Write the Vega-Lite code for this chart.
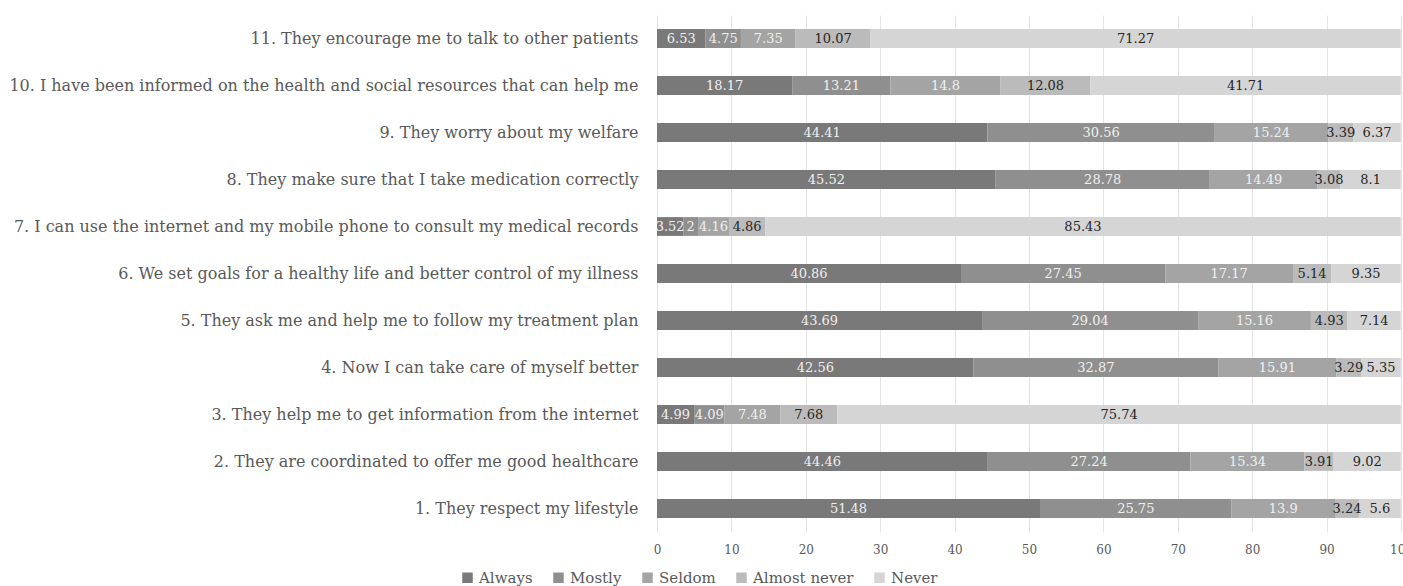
{
  "$schema": "https://vega.github.io/schema/vega-lite/v6.json",
  "width": 744,
  "height": 517,
  "autosize": {"type": "none"},
  "padding": {"left": 657, "top": 15, "right": 2, "bottom": 54},
  "background": "white",
  "config": {"view": {"stroke": null}, "font": "DejaVu Serif"},
  "data": {"values": [
    {"item": "11. They encourage me to talk to other patients", "series": "Always", "value": 6.53},
    {"item": "11. They encourage me to talk to other patients", "series": "Mostly", "value": 4.75},
    {"item": "11. They encourage me to talk to other patients", "series": "Seldom", "value": 7.35},
    {"item": "11. They encourage me to talk to other patients", "series": "Almost never", "value": 10.07},
    {"item": "11. They encourage me to talk to other patients", "series": "Never", "value": 71.27},
    {"item": "10. I have been informed on the health and social resources that can help me", "series": "Always", "value": 18.17},
    {"item": "10. I have been informed on the health and social resources that can help me", "series": "Mostly", "value": 13.21},
    {"item": "10. I have been informed on the health and social resources that can help me", "series": "Seldom", "value": 14.8},
    {"item": "10. I have been informed on the health and social resources that can help me", "series": "Almost never", "value": 12.08},
    {"item": "10. I have been informed on the health and social resources that can help me", "series": "Never", "value": 41.71},
    {"item": "9. They worry about my welfare", "series": "Always", "value": 44.41},
    {"item": "9. They worry about my welfare", "series": "Mostly", "value": 30.56},
    {"item": "9. They worry about my welfare", "series": "Seldom", "value": 15.24},
    {"item": "9. They worry about my welfare", "series": "Almost never", "value": 3.39},
    {"item": "9. They worry about my welfare", "series": "Never", "value": 6.37},
    {"item": "8. They make sure that I take medication correctly", "series": "Always", "value": 45.52},
    {"item": "8. They make sure that I take medication correctly", "series": "Mostly", "value": 28.78},
    {"item": "8. They make sure that I take medication correctly", "series": "Seldom", "value": 14.49},
    {"item": "8. They make sure that I take medication correctly", "series": "Almost never", "value": 3.08},
    {"item": "8. They make sure that I take medication correctly", "series": "Never", "value": 8.1},
    {"item": "7. I can use the internet and my mobile phone to consult my medical records", "series": "Always", "value": 3.52},
    {"item": "7. I can use the internet and my mobile phone to consult my medical records", "series": "Mostly", "value": 2},
    {"item": "7. I can use the internet and my mobile phone to consult my medical records", "series": "Seldom", "value": 4.16},
    {"item": "7. I can use the internet and my mobile phone to consult my medical records", "series": "Almost never", "value": 4.86},
    {"item": "7. I can use the internet and my mobile phone to consult my medical records", "series": "Never", "value": 85.43},
    {"item": "6. We set goals for a healthy life and better control of my illness", "series": "Always", "value": 40.86},
    {"item": "6. We set goals for a healthy life and better control of my illness", "series": "Mostly", "value": 27.45},
    {"item": "6. We set goals for a healthy life and better control of my illness", "series": "Seldom", "value": 17.17},
    {"item": "6. We set goals for a healthy life and better control of my illness", "series": "Almost never", "value": 5.14},
    {"item": "6. We set goals for a healthy life and better control of my illness", "series": "Never", "value": 9.35},
    {"item": "5. They ask me and help me to follow my treatment plan", "series": "Always", "value": 43.69},
    {"item": "5. They ask me and help me to follow my treatment plan", "series": "Mostly", "value": 29.04},
    {"item": "5. They ask me and help me to follow my treatment plan", "series": "Seldom", "value": 15.16},
    {"item": "5. They ask me and help me to follow my treatment plan", "series": "Almost never", "value": 4.93},
    {"item": "5. They ask me and help me to follow my treatment plan", "series": "Never", "value": 7.14},
    {"item": "4. Now I can take care of myself better", "series": "Always", "value": 42.56},
    {"item": "4. Now I can take care of myself better", "series": "Mostly", "value": 32.87},
    {"item": "4. Now I can take care of myself better", "series": "Seldom", "value": 15.91},
    {"item": "4. Now I can take care of myself better", "series": "Almost never", "value": 3.29},
    {"item": "4. Now I can take care of myself better", "series": "Never", "value": 5.35},
    {"item": "3. They help me to get information from the internet", "series": "Always", "value": 4.99},
    {"item": "3. They help me to get information from the internet", "series": "Mostly", "value": 4.09},
    {"item": "3. They help me to get information from the internet", "series": "Seldom", "value": 7.48},
    {"item": "3. They help me to get information from the internet", "series": "Almost never", "value": 7.68},
    {"item": "3. They help me to get information from the internet", "series": "Never", "value": 75.74},
    {"item": "2. They are coordinated to offer me good healthcare", "series": "Always", "value": 44.46},
    {"item": "2. They are coordinated to offer me good healthcare", "series": "Mostly", "value": 27.24},
    {"item": "2. They are coordinated to offer me good healthcare", "series": "Seldom", "value": 15.34},
    {"item": "2. They are coordinated to offer me good healthcare", "series": "Almost never", "value": 3.91},
    {"item": "2. They are coordinated to offer me good healthcare", "series": "Never", "value": 9.02},
    {"item": "1. They respect my lifestyle", "series": "Always", "value": 51.48},
    {"item": "1. They respect my lifestyle", "series": "Mostly", "value": 25.75},
    {"item": "1. They respect my lifestyle", "series": "Seldom", "value": 13.9},
    {"item": "1. They respect my lifestyle", "series": "Almost never", "value": 3.24},
    {"item": "1. They respect my lifestyle", "series": "Never", "value": 5.6}
  ]},
  "transform": [
    {"calculate": "indexof(['Always','Mostly','Seldom','Almost never','Never'], datum.series)", "as": "k"},
    {"stack": "value", "groupby": ["item"], "sort": [{"field": "k", "order": "ascending"}], "as": ["x0", "x1"]},
    {"calculate": "(datum.x0 + datum.x1) / 2", "as": "mid"}
  ],
  "encoding": {
    "y": {
      "field": "item",
      "type": "nominal",
      "sort": null,
      "scale": {"paddingInner": 0.6, "paddingOuter": 0.3},
      "axis": {
        "title": null,
        "domain": false,
        "ticks": false,
        "labelPadding": 19,
        "labelFontSize": 16,
        "labelColor": "#595959",
        "labelLimit": 700,
        "labelFont": "DejaVu Serif"
      }
    }
  },
  "layer": [
    {
      "mark": {"type": "bar"},
      "encoding": {
        "x": {
          "field": "x0",
          "type": "quantitative",
          "scale": {"domain": [0, 100], "nice": false},
          "axis": {
            "title": null,
            "values": [0, 10, 20, 30, 40, 50, 60, 70, 80, 90, 100],
            "domain": false,
            "ticks": false,
            "grid": true,
            "gridColor": "#e4e4e4",
            "gridWidth": 1,
            "labelPadding": 12,
            "labelFontSize": 12,
            "labelColor": "#595959",
            "labelFont": "DejaVu Serif",
            "labelFlush": false
          }
        },
        "x2": {"field": "x1"},
        "color": {
          "field": "series",
          "type": "nominal",
          "scale": {
            "domain": ["Always", "Mostly", "Seldom", "Almost never", "Never"],
            "range": ["#797979", "#8f8f8f", "#a4a4a4", "#bbbbbb", "#d5d5d5"]
          },
          "legend": {
            "title": null,
            "orient": "none",
            "direction": "horizontal",
            "legendX": -197,
            "legendY": 555,
            "symbolType": "square",
            "symbolSize": 110,
            "symbolStrokeWidth": 0,
            "labelFontSize": 15,
            "labelColor": "#595959",
            "labelFont": "DejaVu Serif",
            "columnPadding": 18,
            "labelOffset": 4
          }
        }
      }
    },
    {
      "mark": {"type": "text", "fontSize": 13, "font": "DejaVu Serif"},
      "encoding": {
        "x": {"field": "mid", "type": "quantitative"},
        "text": {"field": "value", "type": "nominal"},
        "color": {
          "condition": {"test": "datum.k < 3", "value": "#f0f0f0"},
          "value": "#262626"
        }
      }
    }
  ]
}
